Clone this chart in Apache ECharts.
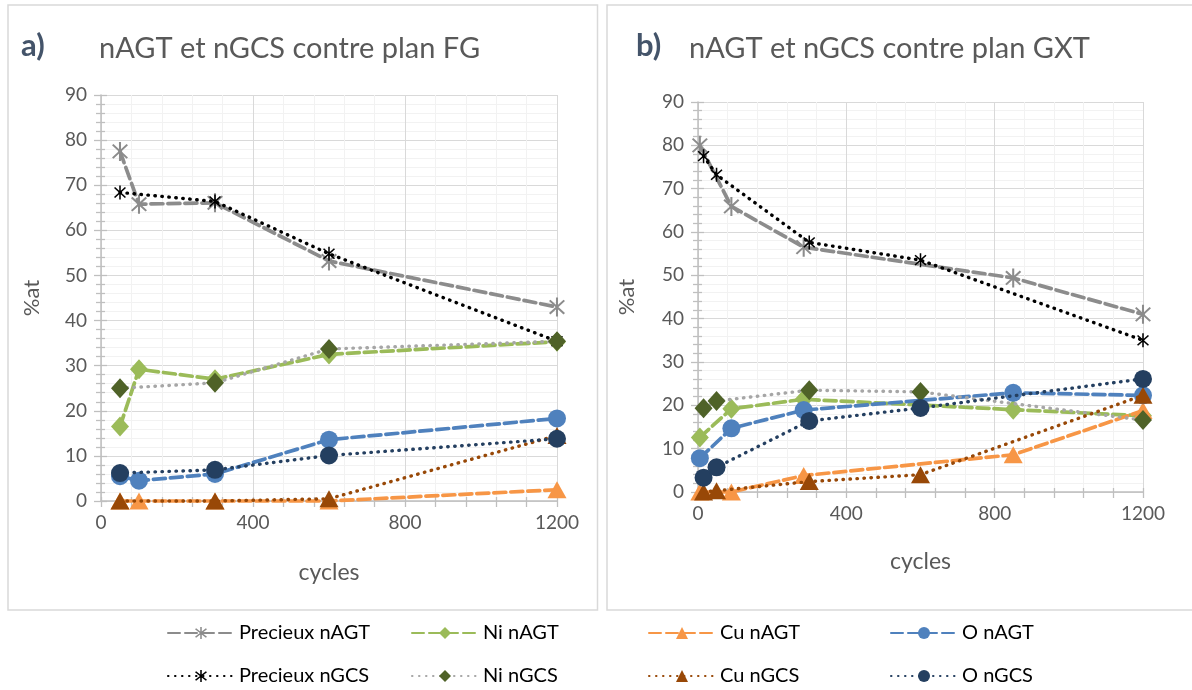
<!DOCTYPE html>
<html>
<head>
<meta charset="utf-8">
<script src="https://cdn.jsdelivr.net/npm/echarts@6/dist/echarts.min.js"></script>
<style>
html,body{margin:0;padding:0;background:#fff;}
#c{width:1192px;height:690px;}
</style>
</head>
<body>
<div id="c"></div>
<script>
// ---------- data ----------
const seriesNames = ['Precieux nAGT','Ni nAGT','Cu nAGT','O nAGT','Precieux nGCS','Ni nGCS','Cu nGCS','O nGCS'];
const titlesTag = ['a)','b)'];
const titlesText = ['nAGT et nGCS contre plan FG','nAGT et nGCS contre plan GXT'];
const yName = '%at';
const xName = 'cycles';

// chart a) FG
const aX_nAGT = [50, 100, 300, 600, 1200];
const aX_nGCS = [50, 300, 600, 1200];
const aPrecieux_nAGT = [77.5, 65.8, 66.1, 53.2, 43.0];
const aNi_nAGT       = [16.5, 29.2, 27.0, 32.5, 35.3];
const aCu_nAGT       = [0, 0, 0, 0, 2.5];
const aO_nAGT        = [5.5, 4.5, 6.0, 13.6, 18.3];
const aPrecieux_nGCS = [68.4, 66.4, 54.8, 35.4];
const aNi_nGCS       = [25.0, 26.2, 33.7, 35.4];
const aCu_nGCS       = [0, 0, 0.5, 14.5];
const aO_nGCS        = [6.2, 6.9, 10.1, 13.8];

// chart b) GXT
const bX_nAGT = [5, 90, 285, 850, 1200];
const bX_nGCS = [15, 50, 300, 600, 1200];
const bPrecieux_nAGT = [80.0, 65.9, 56.5, 49.4, 41.0];
const bNi_nAGT       = [12.6, 19.2, 21.4, 19.0, 17.6];
const bCu_nAGT       = [0, 0, 3.8, 8.6, 18.8];
const bO_nAGT        = [7.8, 14.7, 18.9, 22.9, 22.3];
const bPrecieux_nGCS = [77.5, 73.2, 57.6, 53.5, 35.0];
const bNi_nGCS       = [19.3, 21.0, 23.5, 23.1, 16.6];
const bCu_nGCS       = [0, 0.3, 2.4, 4.0, 22.3];
const bO_nGCS        = [3.3, 5.7, 16.4, 19.4, 26.1];

// ---------- styles ----------
const FONT = 'Lato, "Open Sans", sans-serif';
const starPath = 'path://M-1 -10 L1 -10 L1 10 L-1 10 Z M6.36 -7.78 L7.78 -6.36 L-6.36 7.78 L-7.78 6.36 Z M-6.36 -7.78 L7.78 6.36 L6.36 7.78 L-7.78 -6.36 Z';
const styles = {
  'Precieux nAGT': {line:'#8c8c8c', mark:'#8c8c8c', dash:[12,5], w:3.7, sym:starPath, size:[16,19]},
  'Ni nAGT':       {line:'#9bbb59', mark:'#9bbb59', dash:[12,5], w:3.7, sym:'diamond', size:[18,20]},
  'Cu nAGT':       {line:'#f79646', mark:'#f79646', dash:[12,5], w:3.7, sym:'triangle', size:[19,17]},
  'O nAGT':        {line:'#4f81bd', mark:'#4f81bd', dash:[12,5], w:3.7, sym:'circle', size:18},
  'Precieux nGCS': {line:'#000000', mark:'#000000', dash:[0.5,6.5], w:3.4, sym:starPath, size:[12,14]},
  'Ni nGCS':       {line:'#a6a6a6', mark:'#4f6228', dash:[0.5,6.5], w:3.4, sym:'diamond', size:[18,20]},
  'Cu nGCS':       {line:'#984807', mark:'#984807', dash:[0.5,6.5], w:3.4, sym:'triangle', size:[19,17]},
  'O nGCS':        {line:'#243f60', mark:'#243f60', dash:[0.5,6.5], w:3.4, sym:'circle', size:18}
};

function pairs(xs, ys){ return xs.map((x,i)=>[x, ys[i]]); }

const dataA = {
  'Precieux nAGT': pairs(aX_nAGT, aPrecieux_nAGT),
  'Ni nAGT': pairs(aX_nAGT, aNi_nAGT),
  'Cu nAGT': pairs(aX_nAGT, aCu_nAGT),
  'O nAGT': pairs(aX_nAGT, aO_nAGT),
  'Precieux nGCS': pairs(aX_nGCS, aPrecieux_nGCS),
  'Ni nGCS': pairs(aX_nGCS, aNi_nGCS),
  'Cu nGCS': pairs(aX_nGCS, aCu_nGCS),
  'O nGCS': pairs(aX_nGCS, aO_nGCS)
};
const dataB = {
  'Precieux nAGT': pairs(bX_nAGT, bPrecieux_nAGT),
  'Ni nAGT': pairs(bX_nAGT, bNi_nAGT),
  'Cu nAGT': pairs(bX_nAGT, bCu_nAGT),
  'O nAGT': pairs(bX_nAGT, bO_nAGT),
  'Precieux nGCS': pairs(bX_nGCS, bPrecieux_nGCS),
  'Ni nGCS': pairs(bX_nGCS, bNi_nGCS),
  'Cu nGCS': pairs(bX_nGCS, bCu_nGCS),
  'O nGCS': pairs(bX_nGCS, bO_nGCS)
};

const grids = [
  {left:101, right:1192-557, top:95, bottom:690-501},
  {left:698, right:1192-1143, top:102, bottom:690-492}
];

const xAxes = [], yAxes = [];
grids.forEach((g, gi) => {
  xAxes.push({
    type:'value', gridIndex:gi, min:0, max:1200, interval:400,
    name: xName, nameLocation:'middle', nameGap: gi===0 ? 60 : 58,
    nameTextStyle:{fontFamily:FONT, fontSize:23, color:'#595959'},
    axisLine:{show:true, onZero:false, lineStyle:{color:'#bfbfbf', width:1.5}},
    axisTick:{show:true, length:6, lineStyle:{color:'#bfbfbf', width:1.3}},
    minorTick:{show:true, splitNumber:5, length:6, lineStyle:{color:'#bfbfbf', width:1.3}},
    axisLabel:{fontFamily:FONT, fontSize:19, color:'#595959', margin:12, formatter:(v)=>String(v)},
    splitLine:{show:true, lineStyle:{color:'#d9d9d9', width:1}},
    minorSplitLine:{show:true, lineStyle:{color:'#f2f2f2', width:1}}
  });
  xAxes.push({
    type:'value', gridIndex:gi, min:0, max:1200, interval:400, position:'bottom',
    axisLine:{show:false, onZero:false},
    axisTick:{show:true, inside:true, length:4, lineStyle:{color:'#bfbfbf', width:1.3}},
    minorTick:{show:true, splitNumber:5, length:4, lineStyle:{color:'#bfbfbf', width:1.3}},
    axisLabel:{show:false}, splitLine:{show:false}, minorSplitLine:{show:false}
  });
  yAxes.push({
    type:'value', gridIndex:gi, min:0, max:90, interval:10,
    name: yName, nameLocation:'middle', nameGap: gi===0 ? 58 : 60, nameRotate:90,
    nameTextStyle:{fontFamily:FONT, fontSize:22, color:'#595959'},
    axisLine:{show:true, onZero:false, lineStyle:{color:'#bfbfbf', width:1.5}},
    axisTick:{show:true, length:7, lineStyle:{color:'#bfbfbf', width:1.3}},
    minorTick:{show:true, splitNumber:5, length:5, lineStyle:{color:'#bfbfbf', width:1.3}},
    axisLabel:{fontFamily:FONT, fontSize:19, color:'#595959', margin:14},
    splitLine:{show:true, lineStyle:{color:'#d9d9d9', width:1}},
    minorSplitLine:{show:true, lineStyle:{color:'#f2f2f2', width:1}}
  });
  yAxes.push({
    type:'value', gridIndex:gi, min:0, max:90, interval:10, position:'left',
    axisLine:{show:false, onZero:false},
    axisTick:{show:true, inside:true, length:6, lineStyle:{color:'#bfbfbf', width:1.3}},
    minorTick:{show:true, splitNumber:5, length:4, lineStyle:{color:'#bfbfbf', width:1.3}},
    axisLabel:{show:false}, splitLine:{show:false}, minorSplitLine:{show:false}
  });
});

const series = [];
[dataA, dataB].forEach((d, gi) => {
  seriesNames.forEach((n, si) => {
    const s = styles[n];
    series.push({
      type:'line', name:n, xAxisIndex:gi*2, yAxisIndex:gi*2,
      data:d[n], symbol:s.sym, symbolSize:s.size, showSymbol:true,
      clip:false, animation:false, z: 2 + si,
      lineStyle:{color:s.line, width:s.w, type:s.dash, cap:'round'},
      itemStyle:{color:s.mark, borderWidth:0}
    });
  });
});

// legend: 4 columns x 2 rows
const legendColLeft = [167, 411, 648, 890];
const legendRowTop = [623, 666];
const legends = seriesNames.map((n, i) => ({
  left: legendColLeft[i % 4], top: legendRowTop[Math.floor(i / 4)],
  itemWidth:66, itemHeight:15, data:[n], selectedMode:false, padding:0,
  textStyle:{fontFamily:FONT, fontSize:20, color:'#000'}
}));

const graphic = [
  {type:'rect', shape:{x:8, y:5, width:589.5, height:605}, style:{fill:'none', stroke:'#d9d9d9', lineWidth:1.5}, silent:true},
  {type:'rect', shape:{x:607, y:5, width:600, height:605}, style:{fill:'none', stroke:'#d9d9d9', lineWidth:1.5}, silent:true},
  {type:'text', x:21, y:46, style:{text:titlesTag[0], font:'bold 31px '+FONT, fill:'#44546a', textVerticalAlign:'middle'}},
  {type:'text', x:99, y:49, style:{text:titlesText[0], font:'29px '+FONT, fill:'#595959', textVerticalAlign:'middle'}},
  {type:'text', x:636, y:46, style:{text:titlesTag[1], font:'bold 31px '+FONT, fill:'#44546a', textVerticalAlign:'middle'}},
  {type:'text', x:689, y:49, style:{text:titlesText[1], font:'29px '+FONT, fill:'#595959', textVerticalAlign:'middle'}}
];

const chart = echarts.init(document.getElementById('c'), null, {renderer:'canvas'});
chart.setOption({
  backgroundColor:'#fff',
  animation:false,
  grid: grids,
  xAxis: xAxes,
  yAxis: yAxes,
  series: series,
  legend: legends,
  graphic: graphic
});
</script>
</body>
</html>
